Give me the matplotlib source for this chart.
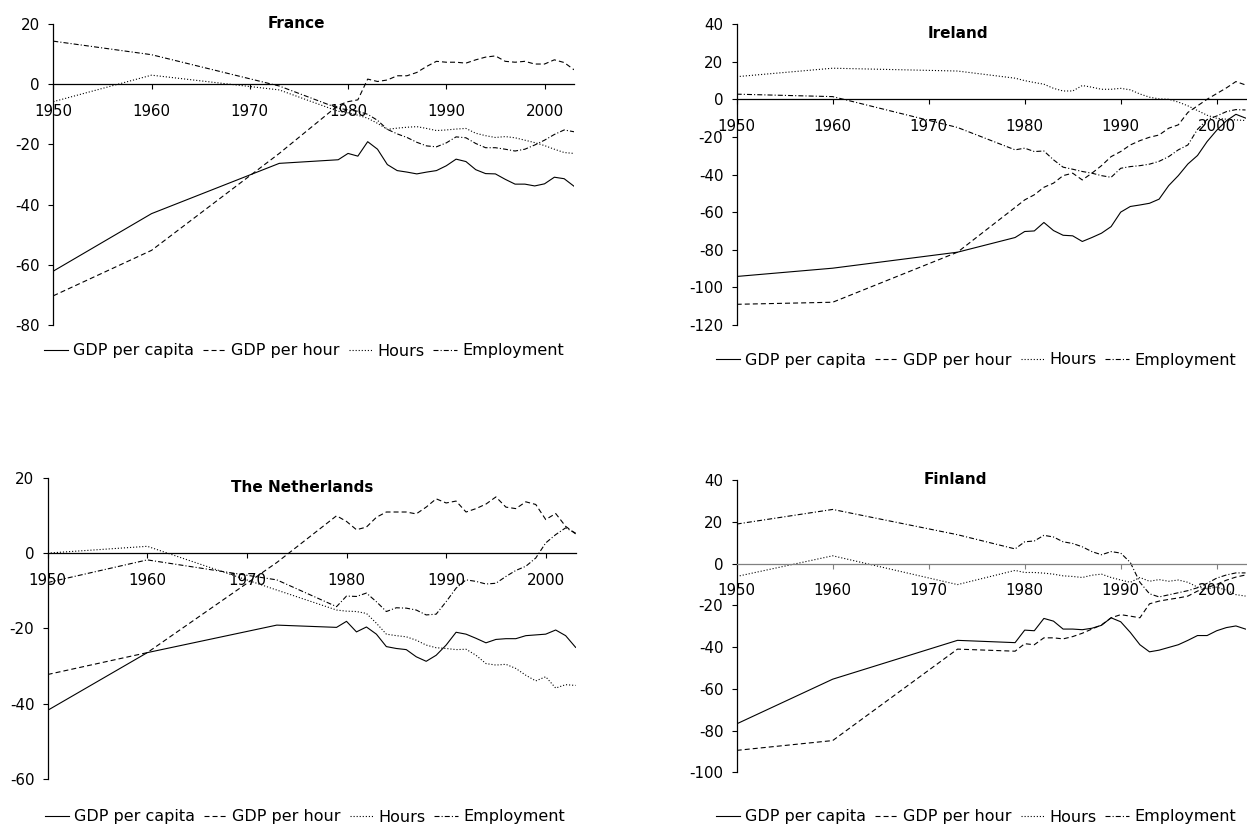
import matplotlib
matplotlib.use("Agg")
import matplotlib.pyplot as plt

plt.rcParams['font.family'] = ['DejaVu Sans']
plt.rcParams['lines.scale_dashes'] = False
plt.rcParams['axes.unicode_minus'] = False

years = [1950, 1960, 1973, 1979, 1980, 1981, 1982, 1983, 1984, 1985, 1986, 1987,
         1988, 1989, 1990, 1991, 1992, 1993, 1994, 1995, 1996, 1997, 1998, 1999,
         2000, 2001, 2002, 2003]

series_labels = ["GDP per capita", "GDP per hour", "Hours", "Employment"]

# France
fr_gdp_capita = [-62.1, -43.0, -26.3, -25.1, -23.0, -23.9, -19.1, -21.6, -26.7, -28.7, -29.2, -29.8,
                 -29.2, -28.7, -27.1, -24.9, -25.7, -28.4, -29.7, -29.8, -31.6, -33.2, -33.2, -33.8,
                 -33.1, -30.9, -31.4, -33.9]
fr_gdp_hour = [-70.3, -55.2, -23.0, -7.0, -5.8, -5.2, 1.7, 0.9, 1.4, 2.8, 2.8, 3.9,
               5.9, 7.6, 7.3, 7.3, 7.0, 8.1, 9.0, 9.4, 7.6, 7.3, 7.6, 6.7,
               6.7, 8.1, 7.2, 4.8]
fr_hours = [-5.8, 3.0, -1.9, -9.0, -9.5, -10.3, -11.3, -13.0, -15.0, -14.6, -14.3, -14.1,
            -14.7, -15.4, -15.2, -14.9, -14.7, -16.3, -17.1, -17.7, -17.4, -17.8, -18.6, -19.4,
            -20.4, -21.6, -22.7, -23.0]
fr_employment = [14.3, 9.8, -0.6, -8.0, -8.5, -9.0, -10.0, -12.0, -15.0, -16.5, -17.7, -19.3,
                 -20.5, -20.8, -19.5, -17.5, -17.8, -19.7, -21.1, -21.1, -21.6, -22.2, -21.6, -20.2,
                 -18.6, -16.7, -15.2, -15.8]

# Ireland
ie_gdp_capita = [-94.2, -89.8, -81.3, -73.5, -70.3, -70.0, -65.5, -69.8, -72.3, -72.6, -75.6, -73.5,
                 -71.2, -67.7, -60.0, -57.0, -56.2, -55.3, -53.1, -45.9, -40.6, -34.4, -29.9, -22.5,
                 -16.5, -11.5, -8.0, -10.0]
ie_gdp_hour = [-109.0, -107.9, -81.3, -57.5, -53.5, -50.8, -46.8, -44.6, -40.6, -39.3, -42.9, -39.3,
               -35.3, -30.5, -27.8, -24.3, -22.0, -20.2, -19.0, -15.4, -13.6, -7.0, -3.5, 0.0,
               3.0, 6.0, 9.4, 7.6]
ie_hours = [12.0, 16.5, 15.0, 11.2, 9.9, 8.9, 8.0, 5.8, 4.4, 4.4, 7.3, 6.4,
            5.3, 5.3, 5.8, 5.0, 2.8, 1.1, 0.2, 0.0, -1.5, -3.5, -6.0, -8.5,
            -10.1, -10.6, -11.0, -11.3]
ie_employment = [2.7, 1.4, -15.0, -26.9, -26.0, -27.8, -27.5, -32.2, -36.1, -37.2, -38.4, -39.3,
                 -40.6, -41.5, -36.7, -35.8, -35.3, -34.5, -33.0, -30.5, -26.9, -24.3, -16.0, -10.8,
                 -8.9, -6.6, -5.5, -5.7]

# The Netherlands
nl_gdp_capita = [-41.7, -26.4, -19.1, -19.7, -18.1, -20.9, -19.6, -21.5, -24.8, -25.3, -25.6, -27.5,
                 -28.7, -27.1, -24.4, -21.0, -21.5, -22.6, -23.8, -22.9, -22.7, -22.7, -21.9, -21.7,
                 -21.5, -20.4, -21.9, -25.0]
nl_gdp_hour = [-32.2, -26.4, -2.5, 9.9, 8.4, 6.2, 6.9, 9.5, 10.9, 10.9, 10.9, 10.4,
               12.2, 14.4, 13.3, 13.8, 10.9, 11.8, 13.0, 14.9, 12.2, 11.8, 13.6, 12.9,
               8.9, 10.5, 7.1, 5.1]
nl_hours = [0.0, 1.8, -9.8, -15.1, -15.4, -15.5, -16.0, -18.6, -21.5, -21.9, -22.2, -23.1,
            -24.4, -25.1, -25.3, -25.6, -25.5, -27.1, -29.3, -29.7, -29.5, -30.6, -32.4, -33.9,
            -32.8, -35.8, -34.9, -35.1]
nl_employment = [-7.8, -1.8, -7.1, -14.2, -11.4, -11.5, -10.6, -12.9, -15.5, -14.5, -14.6, -15.1,
                 -16.4, -16.2, -12.9, -9.3, -7.1, -7.5, -8.2, -8.0, -6.2, -4.6, -3.5, -1.3,
                 2.7, 4.9, 6.7, 5.3]

# Finland
fi_gdp_capita = [-76.8, -55.4, -36.8, -37.9, -31.9, -32.2, -26.3, -27.6, -31.4, -31.4, -31.7, -31.0,
                 -29.6, -26.0, -27.9, -33.0, -38.9, -42.3, -41.5, -40.2, -38.9, -36.8, -34.5, -34.5,
                 -32.2, -30.7, -29.9, -31.4]
fi_gdp_hour = [-89.5, -84.8, -41.0, -42.0, -38.4, -38.9, -35.6, -35.6, -36.1, -35.0, -33.4, -31.4,
               -29.4, -26.0, -24.5, -25.2, -26.0, -19.3, -18.0, -17.2, -16.5, -15.6, -13.2, -11.5,
               -10.0, -8.0, -6.5, -5.5]
fi_hours = [-6.2, 3.7, -10.1, -3.3, -4.3, -4.3, -4.6, -5.1, -5.9, -6.2, -6.7, -5.6,
            -5.1, -6.7, -7.9, -9.0, -6.7, -8.5, -7.7, -8.5, -7.9, -9.0, -11.3, -12.1,
            -11.3, -12.8, -14.9, -15.6]
fi_employment = [18.9, 25.9, 13.8, 7.0, 10.4, 10.8, 13.5, 12.7, 10.4, 9.6, 8.0, 5.7,
                 4.2, 5.7, 5.0, 0.5, -9.0, -14.5, -16.0, -15.0, -14.0, -13.0, -11.6, -9.5,
                 -7.0, -5.5, -4.5, -4.5]

W, H = 1247, 826
fig = plt.figure(figsize=(W / 100, H / 100), dpi=100)

line_styles = [
    dict(linestyle='-'),
    dict(linestyle=(0, (3.6, 2.2))),
    dict(linestyle=(0, (0.8, 1.4))),
    dict(linestyle=(0, (3.6, 1.5, 0.8, 1.5))),
]


def rect(x0, x1, ytop, ybot):
    return [x0 / W, 1 - ybot / H, (x1 - x0) / W, (ybot - ytop) / H]


def panel(r, title, title_xy, ylim, yticks, data, legend_xy, zero_color='black'):
    ax = fig.add_axes(r)
    handles = []
    for vals, st, lab in zip(data, line_styles, series_labels):
        h, = ax.plot(years, vals, color='black', linewidth=0.8, label=lab, **st)
        handles.append(h)
    ax.set_xlim(1950, 2003)
    ax.set_ylim(*ylim)
    ax.set_xticks([1950, 1960, 1970, 1980, 1990, 2000])
    ax.set_yticks(yticks)
    ax.spines['top'].set_visible(False)
    ax.spines['right'].set_visible(False)
    ax.spines['bottom'].set_position(('data', 0))
    ax.spines['bottom'].set_color(zero_color)
    ax.spines['bottom'].set_linewidth(0.9)
    ax.spines['left'].set_linewidth(0.9)
    ax.tick_params(axis='x', direction='out', length=3.8, width=0.8, pad=10.5,
                   labelsize=10.8, color=zero_color)
    ax.tick_params(axis='y', direction='out', length=3.6, width=0.8, pad=6,
                   labelsize=10.8)
    ax.patch.set_alpha(0)
    fig.text(title_xy[0] / W, 1 - title_xy[1] / H, title, ha='center', va='center',
             fontsize=11, fontweight='bold')
    ax.legend(handles, series_labels, loc='center',
              bbox_to_anchor=(legend_xy[0] / W, 1 - legend_xy[1] / H),
              bbox_transform=fig.transFigure, ncol=4, frameon=False,
              handlelength=1.5, handletextpad=0.3, columnspacing=0.55,
              fontsize=11.5, borderpad=0, borderaxespad=0)
    return ax


panel(rect(53.3, 574, 24, 325), "France", (296, 24), (-80, 20), range(-80, 21, 20),
      [fr_gdp_capita, fr_gdp_hour, fr_hours, fr_employment], (304, 351))
panel(rect(736.7, 1245.5, 24, 325), "Ireland", (958, 33), (-120, 40), range(-120, 41, 20),
      [ie_gdp_capita, ie_gdp_hour, ie_hours, ie_employment], (976, 360))
panel(rect(47.7, 575.6, 477.7, 779.3), "The Netherlands", (302, 487), (-60, 20), range(-60, 21, 20),
      [nl_gdp_capita, nl_gdp_hour, nl_hours, nl_employment], (305, 817))
panel(rect(736.7, 1245.5, 480, 772.3), "Finland", (955, 480), (-100, 40), range(-100, 41, 20),
      [fi_gdp_capita, fi_gdp_hour, fi_hours, fi_employment], (976, 817), zero_color='#808080')

fig.savefig("out.png", dpi=100)
